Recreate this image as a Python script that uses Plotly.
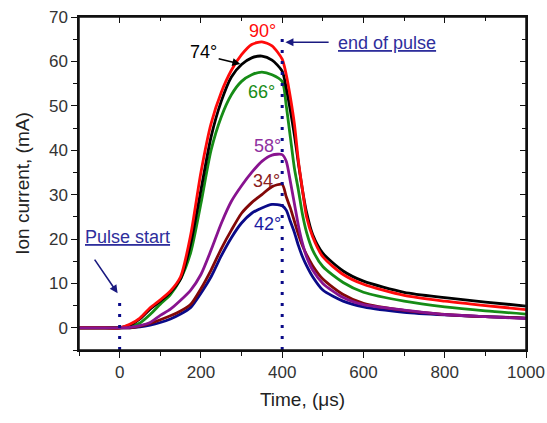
import plotly.graph_objects as go

# ---------------- data ----------------
time_us = [-100, -50, 0, 25, 50, 75, 100, 125, 150, 175, 200, 225, 250, 275, 300,
           325, 350, 375, 400, 410, 420, 430, 440, 450, 460, 475, 500, 550, 600,
           700, 800, 900, 1000]

i_90 = [0, 0, 0, 0.8, 2.2, 4.5, 6.3, 8.3, 11.5, 21, 35, 46, 53, 58, 61.5,
        63.8, 64.4, 63.5, 60.5, 57, 52, 46, 37.5, 31, 25, 20.5, 16, 12, 9.8,
        7.3, 6.0, 5.0, 4.1]
i_74 = [0, 0, 0, 0.6, 2.0, 4.2, 6.0, 8.0, 11, 19, 31, 43, 51, 56.5, 59.3,
        60.8, 61.2, 60.3, 57.8, 54, 49, 43.5, 37, 31, 26, 21, 16.8, 12.8, 10.5,
        8.0, 6.8, 5.8, 4.9]
i_66 = [0, 0, 0, 0.2, 1.1, 3.0, 5.3, 7.5, 11, 17, 28, 40, 47.5, 52.5, 55.5,
        57, 57.6, 57, 55.5, 50, 43, 36, 31, 25.5, 21.5, 17.5, 13.8, 10.2, 8.0,
        6.0, 4.7, 3.8, 3.1]
i_58 = [0, 0, 0, 0.1, 0.5, 1.2, 2.8, 4.2, 6.2, 8.5, 12, 17.5, 23.5, 28.5, 32,
        35, 37.5, 38.9, 39, 37.5, 33, 28, 23, 19, 16, 13, 10, 6.8, 5.2,
        4.0, 3.0, 2.5, 2.1]
i_34 = [0, 0, 0, 0, 0.4, 1.0, 1.8, 2.7, 3.8, 5.3, 8.8, 13, 17.8, 22, 25.8,
        28.2, 30, 31.8, 32.3, 29.5, 27, 24, 21, 18.5, 16.5, 14, 11, 7.5, 5.5,
        3.9, 3.0, 2.5, 2.2]
i_42 = [0, 0, 0, 0, 0.2, 0.6, 1.2, 2.0, 3.1, 4.6, 7.8, 11.5, 16.2, 20.3, 23.6,
        25.8, 27, 27.8, 27.5, 26.5, 24, 21.5, 18.5, 16, 14, 11.5, 8.5, 6, 4.7,
        3.5, 2.9, 2.5, 2.2]

pulse_start = 0
pulse_end = 400
y_min, y_max = -5, 70
x_min, x_max = -100, 1000
pulse_start_top = 7
pulse_end_top = 66

x_ticks = [0, 200, 400, 600, 800, 1000]
y_ticks = [0, 10, 20, 30, 40, 50, 60, 70]

# ---------------- style ----------------
C_RED, C_BLACK, C_GREEN = "#ff0a0a", "#000000", "#168c16"
C_PURPLE, C_MAROON, C_NAVY = "#88138f", "#820808", "#0a0a88"
C_NOTE = "#2e2e9c"
FONT = "Arial, Liberation Sans, sans-serif"

fig = go.Figure()

series = [
    (i_42, C_NAVY, "42°"),
    (i_34, C_MAROON, "34°"),
    (i_66, C_GREEN, "66°"),
    (i_74, C_BLACK, "74°"),
    (i_90, C_RED, "90°"),
    (i_58, C_PURPLE, "58°"),
]
for ys, col, name in series:
    fig.add_trace(go.Scatter(
        x=time_us, y=ys, mode="lines", name=name,
        line=dict(color=col, width=2.8, shape="spline", smoothing=0.7),
        showlegend=False, hoverinfo="skip"))

# dotted pulse markers (on the mirrored axes, same ranges)
fig.add_trace(go.Scatter(x=[pulse_start, pulse_start], y=[y_min, pulse_start_top],
                         mode="lines", xaxis="x2", yaxis="y2", showlegend=False,
                         hoverinfo="skip",
                         line=dict(color=C_NAVY, width=3, dash="3px,8px")))
fig.add_trace(go.Scatter(x=[pulse_end, pulse_end], y=[y_min, pulse_end_top],
                         mode="lines", xaxis="x2", yaxis="y2", showlegend=False,
                         hoverinfo="skip",
                         line=dict(color=C_NAVY, width=3, dash="3px,8px")))

tickfont = dict(family=FONT, size=17, color="#333333")
axis_common = dict(showgrid=False, zeroline=False, showline=True, automargin=False,
                   linecolor="#111111", linewidth=1.5, tickcolor="#111111",
                   tickwidth=1.3)

fig.update_layout(
    width=547, height=423,
    margin=dict(l=79, r=21, t=17, b=73),
    paper_bgcolor="white", plot_bgcolor="white",
    xaxis=dict(range=[x_min, x_max], tickvals=x_ticks, ticks="outside", ticklen=6,
               mirror=True,
               minor=dict(dtick=100, tick0=0, ticks="outside", ticklen=4,
                          tickcolor="#111111", tickwidth=1.2),
               tickfont=tickfont,
               title=dict(text="Time, (μs)", font=dict(family=FONT, size=19, color="#222222"),
                          standoff=12),
               **axis_common),
    yaxis=dict(range=[y_min, y_max], tickvals=y_ticks, ticks="outside", ticklen=6,
               mirror=True,
               minor=dict(dtick=5, tick0=0, ticks="outside", ticklen=4,
                          tickcolor="#111111", tickwidth=1.2),
               tickfont=tickfont,
               title=dict(text="Ion current, (mA)", font=dict(family=FONT, size=19, color="#222222"),
                          standoff=14),
               **axis_common),
    xaxis2=dict(range=[x_min, x_max], overlaying="x", side="top", anchor="y2",
                tickvals=x_ticks, ticks="inside", ticklen=6, showticklabels=False,
                minor=dict(dtick=100, tick0=0, ticks="inside", ticklen=4,
                           tickcolor="#111111", tickwidth=1.2),
                **axis_common),
    yaxis2=dict(range=[y_min, y_max], overlaying="y", side="right", anchor="x2",
                tickvals=y_ticks, ticks="inside", ticklen=6, showticklabels=False,
                minor=dict(dtick=5, tick0=0, ticks="inside", ticklen=4,
                           tickcolor="#111111", tickwidth=1.2),
                **axis_common),
)

# plot-area frame
fig.add_shape(type="rect", xref="paper", yref="paper", x0=0, x1=1, y0=0, y1=1,
              line=dict(color="#111111", width=1.5), fillcolor="rgba(0,0,0,0)",
              layer="above")

def label(x, y, text, color):
    fig.add_annotation(x=x, y=y, text=text, showarrow=False,
                       font=dict(family=FONT, size=18, color=color))

label(351, 66.9, "90°", C_RED)
label(206, 62.1, "74°", C_BLACK)
label(349, 53.0, "66°", C_GREEN)
label(363, 41.0, "58°", "#9030a0")
label(361, 33.1, "34°", "#8a2020")
label(363, 23.4, "42°", "#1a1aa0")
label(20, 20.5, "<u>Pulse start</u>", C_NOTE)
label(658, 64.1, "<u>end of pulse</u>", C_NOTE)

def arrow(x0, y0, x1, y1, color):
    fig.add_annotation(x=x1, y=y1, ax=x0, ay=y0, xref="x", yref="y",
                       axref="x", ayref="y", text="", showarrow=True,
                       arrowhead=2, arrowsize=1, arrowwidth=1.6, arrowcolor=color)

arrow(240, 60.7, 297, 59.4, C_BLACK)
arrow(-64, 15.7, -5, 7.8, "#1a1a80")
arrow(518, 64.3, 408, 64.3, "#1a1a80")

# remove the browser's default page margin so the figure sits at (0, 0)
fig.write_html("out.html",
               config={"displayModeBar": False},
               post_script="document.body.style.margin='0';"
                           "document.body.style.overflow='hidden';")
